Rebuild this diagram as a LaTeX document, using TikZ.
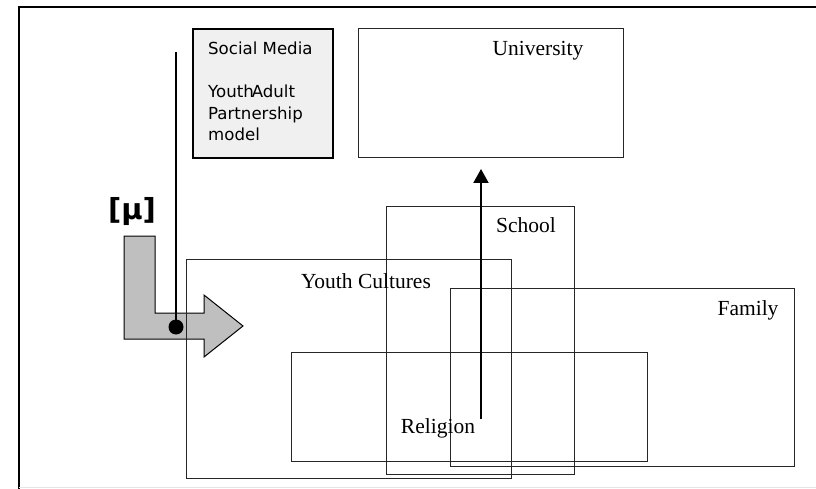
\documentclass[tikz,border=0pt]{standalone}
\usepackage{fontspec}
\setmainfont{Liberation Serif}
\newfontfamily\boxfont{DejaVu Sans}
\usetikzlibrary{arrows.meta}

\begin{document}
\begin{tikzpicture}[x=1pt,y=-1pt,
		area/.style={draw=black!85, line width=1.1pt, inner sep=0pt, anchor=north west},
		lbl/.style={font=\fontsize{21.5}{24}\selectfont, anchor=base, inner sep=0pt}]
		\useasboundingbox (0,0) rectangle (816,489);
		% outer frame
		\draw[line width=1.3pt] (19,489) -- (19,7) -- (816,7);
		\draw[black!10] (19,487.5) -- (816,487.5);

		% gray arrow
		\filldraw[fill=black!25, line width=1pt] (124,236) -- (155,236) -- (155,313) -- (204,313) -- (204,295)
			-- (243,326) -- (204,357) -- (204,339) -- (124,339) -- cycle;
		\node[font=\boxfont\bfseries\fontsize{29}{30}\selectfont, inner sep=0pt] (mu) at (132,212) {[μ]};

		% boxes
		\node[area, draw=black, line width=2pt, fill=black!6, minimum width=140pt, minimum height=129pt] (social) at (192,28) {};
		\node[area, minimum width=265pt, minimum height=129pt] (univ) at (358,28) {};
		\node[area, minimum width=188pt, minimum height=268pt] (school) at (386,206) {};
		\node[area, minimum width=325pt, minimum height=219pt] (youth) at (186,259) {};
		\node[area, minimum width=344pt, minimum height=178pt] (family) at (450,288) {};
		\node[area, minimum width=356pt, minimum height=109pt] (religion) at (291,352) {};

		% labels
		\node[font=\boxfont\fontsize{16.6}{21.6}\selectfont, align=left, anchor=north west, inner sep=0pt] (socialtext) at (208,41.5)
			{Social Media\\ \\ Youth\kern-2ptAdult\\ Partnership\\ model};
		\node[lbl] (univtext) at (538,56) {University};
		\node[lbl] (schooltext) at (526,232) {School};
		\node[lbl] (youthtext) at (366,288) {Youth Cultures};
		\node[lbl] (familytext) at (748,315) {Family};
		\node[lbl] (religiontext) at (438,433) {Religion};

		% connectors
		\coordinate (rise) at (481,419);
		\coordinate (risetop) at (481,169);
		\draw[line width=2pt, -{Triangle[length=14pt,width=15pt]}] (rise) -- (risetop);
		\coordinate (drop) at (176,52);
		\coordinate (dot) at (176,327);
		\draw[line width=1.6pt] (drop) -- (dot);
		\fill (dot) circle (7.5pt);
\end{tikzpicture}
\end{document}
